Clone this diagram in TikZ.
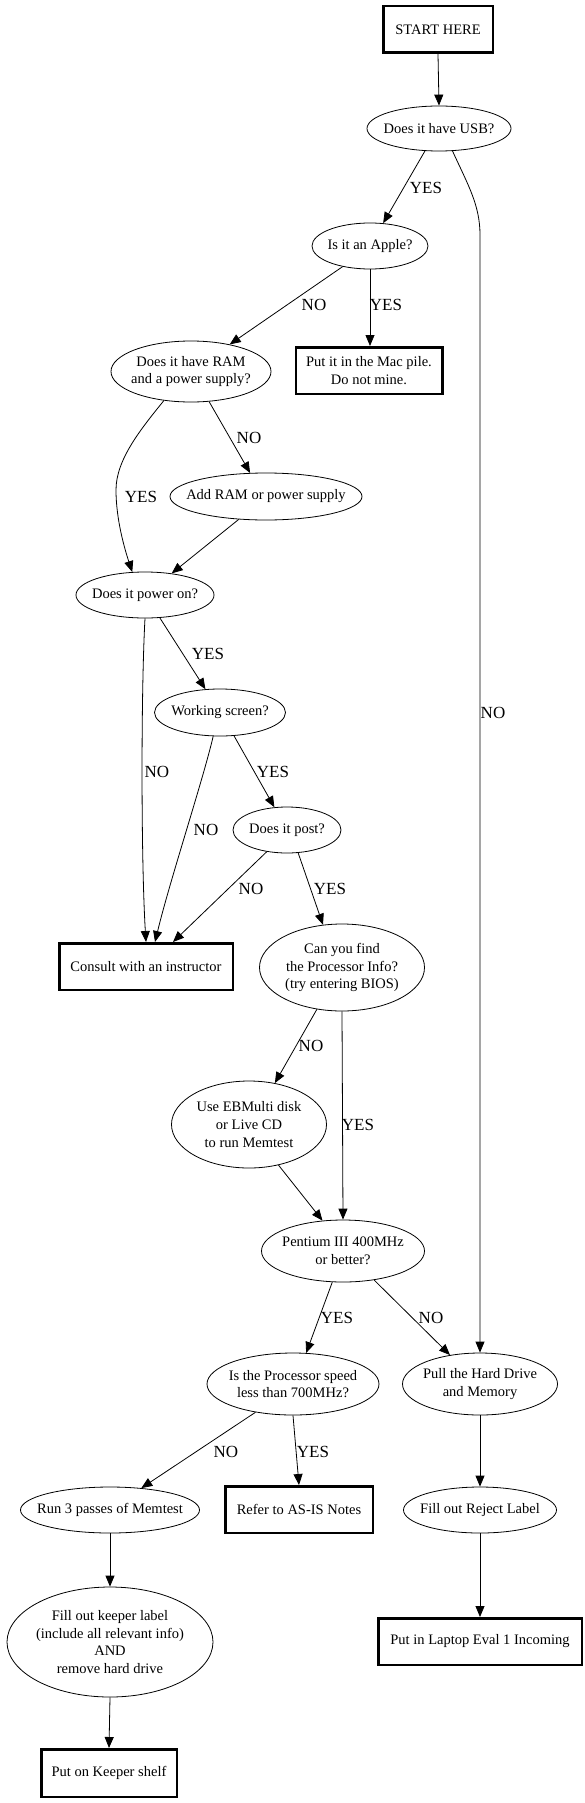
\documentclass[tikz,border=0pt]{standalone}
\usepackage{fontspec}
\setmainfont{Liberation Serif}
\usetikzlibrary{shapes.geometric,arrows.meta}
\newcommand\ndfont{\fontsize{14.5}{17.8}\selectfont}
\newcommand\lbfont{\fontsize{17}{19}\selectfont}
\begin{document}
\begin{tikzpicture}[x=1pt,y=-1pt,
  ell/.style={ellipse, draw, line width=0.8pt, inner sep=0pt},
  box/.style={rectangle, draw, line width=2.5pt, inner sep=0pt, align=center, font=\ndfont},
  every label/.style={align=center, font=\ndfont, inner sep=0pt},
  lbl/.style={font=\lbfont, inner sep=0pt},
  conn/.style={draw, line width=0.8pt, -{Triangle[length=11pt,width=9pt]}},
]
\useasboundingbox[fill=white] (0,0) rectangle (584,1803);

% nodes
\node[box, minimum width=109.5pt, minimum height=46.5pt] (start) at (438,29.5) {START HERE};
\node[ell, minimum width=144pt, minimum height=45pt, label={center:{Does it have USB?}}] (usb) at (439,128.5) {};
\node[ell, minimum width=116pt, minimum height=46pt, label={center:{Is it an Apple?}}] (apple) at (370,246) {};
\node[ell, minimum width=160pt, minimum height=61pt, label={center:{Does it have RAM\\and a power supply?}}] (ram) at (191,371.5) {};
\node[box, minimum width=146.5pt, minimum height=46.5pt] (mac) at (369,370.5) {Put it in the Mac pile.\\Do not mine.};
\node[ell, minimum width=192pt, minimum height=47pt, label={center:{Add RAM or power supply}}] (addram) at (266,496.5) {};
\node[ell, minimum width=138pt, minimum height=46pt, label={center:{Does it power on?}}] (power) at (145,595) {};
\node[ell, minimum width=131pt, minimum height=47pt, label={center:{Working screen?}}] (screen) at (220,712.5) {};
\node[ell, minimum width=108pt, minimum height=46pt, label={center:{Does it post?}}] (post) at (287,830) {};
\node[box, minimum width=173.5pt, minimum height=46.5pt] (consult) at (146,966.5) {Consult with an instructor};
\node[ell, minimum width=165pt, minimum height=87pt, label={center:{Can you find\\the Processor Info?\\(try entering BIOS)}}] (procinfo) at (342,967.5) {};
\node[ell, minimum width=155pt, minimum height=87pt, label={center:{Use EBMulti disk\\or Live CD\\to run Memtest}}] (ebmulti) at (249,1124.5) {};
\node[ell, minimum width=163pt, minimum height=62pt, label={center:{Pentium III 400MHz\\or better?}}] (pentium) at (343,1251) {};
\node[ell, minimum width=172pt, minimum height=62pt, label={center:{Is the Processor speed\\less than 700MHz?}}] (speed) at (293,1384) {};
\node[ell, minimum width=155pt, minimum height=62pt, label={center:{Pull the Hard Drive\\and Memory}}] (pullhd) at (480,1384) {};
\node[ell, minimum width=179pt, minimum height=46pt, label={center:{Run 3 passes of Memtest}}] (run3) at (110,1510) {};
\node[box, minimum width=147.5pt, minimum height=46.5pt] (asis) at (299,1509.5) {Refer to AS-IS Notes};
\node[ell, minimum width=153pt, minimum height=46pt, label={center:{Fill out Reject Label}}] (reject) at (480,1510) {};
\node[ell, minimum width=206pt, minimum height=110pt, label={center:{Fill out keeper label\\(include all relevant info)\\AND\\remove hard drive}}] (keeper) at (110,1642) {};
\node[box, minimum width=203.5pt, minimum height=46.5pt] (laptop) at (480,1641.5) {Put in Laptop Eval 1 Incoming};
\node[box, minimum width=135.5pt, minimum height=47.5pt] (shelf) at (109,1773) {Put on Keeper shelf};

% connectors
\path[conn] (start.south) -- (usb.north);
\path[conn] (usb.-122.5) -- (apple.60.5);
\path[conn] (usb.-59) .. controls (468,185) and (480,205) .. (480,235) -- (pullhd.north);
\path[conn] (apple.-143) -- (ram.35);
\path[conn] (apple.south) -- (apple.south |- mac.north);
\path[conn] (ram.-133.5) .. controls (140,430) and (116,460) .. (116,490) .. controls (116,520) and (125,550) .. (power.119.5);
\path[conn] (ram.-59.5) -- (addram.124);
\path[conn] (addram.-140) -- (power.39.4);
\path[conn] (power.south) .. controls (141,690) and (141,860) .. (consult.north);
\path[conn] (power.-57) -- (screen.122.5);
\path[conn] (screen.-106.6) .. controls (203,780) and (170,880) .. ([xshift=9pt]consult.north);
\path[conn] (screen.-59) -- (post.119.5);
\path[conn] (post.-133.7) -- ([xshift=27pt]consult.north);
\path[conn] (post.-64.4) -- (procinfo.114);
\path[conn] (procinfo.-121) -- (ebmulti.58);
\path[conn] (procinfo.south) -- (pentium.north);
\path[conn] (ebmulti.-54) -- (pentium.124);
\path[conn] (pentium.-109.5) -- (speed.67);
\path[conn] (pentium.-43) -- (pullhd.136);
\path[conn] (speed.-143) -- (run3.35.7);
\path[conn] (speed.south) -- (asis.north);
\path[conn] (pullhd.south) -- (reject.north);
\path[conn] (run3.south) -- (keeper.north);
\path[conn] (keeper.south) -- (shelf.north);
\path[conn] (reject.south) -- (laptop.north);

% edge labels
\node[lbl] (l1) at (426,188) {YES};
\node[lbl] (l2) at (493,713) {NO};
\node[lbl] (l3) at (314,305) {NO};
\node[lbl] (l4) at (386,305) {YES};
\node[lbl] (l5) at (141,497) {YES};
\node[lbl] (l6) at (249,438) {NO};
\node[lbl] (l7) at (208,654) {YES};
\node[lbl] (l8) at (157,772) {NO};
\node[lbl] (l9) at (273,772) {YES};
\node[lbl] (l10) at (206,830) {NO};
\node[lbl] (l11) at (251,889) {NO};
\node[lbl] (l12) at (330,889) {YES};
\node[lbl] (l13) at (311,1046) {NO};
\node[lbl] (l14) at (358,1125) {YES};
\node[lbl] (l15) at (337,1318) {YES};
\node[lbl] (l16) at (431,1318) {NO};
\node[lbl] (l17) at (226,1452) {NO};
\node[lbl] (l18) at (313,1452) {YES};
\end{tikzpicture}
\end{document}
